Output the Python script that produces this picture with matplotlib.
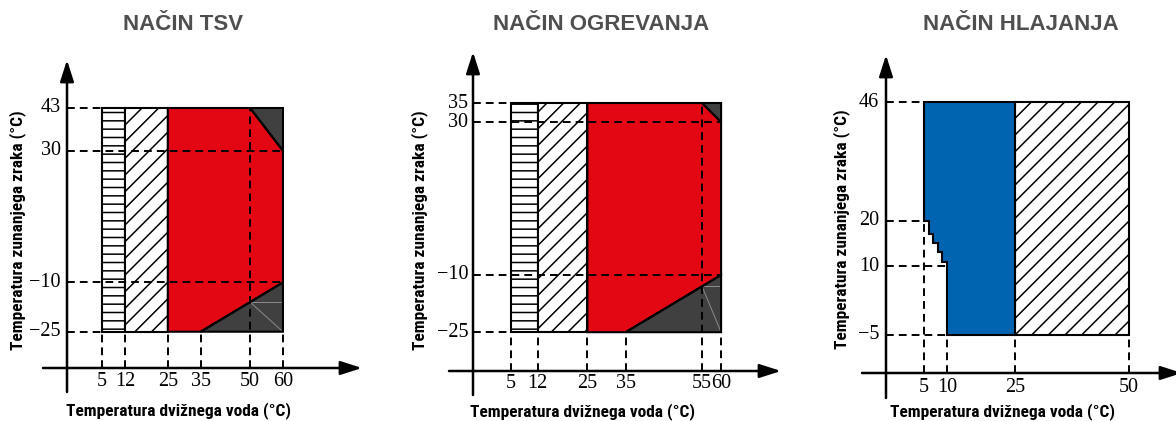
import matplotlib.pyplot as plt
from matplotlib.patches import Polygon
from matplotlib import font_manager
from matplotlib.font_manager import FontProperties

W, H = 1176, 421

RED = '#e30613'
BLUE = '#0064b0'
DARK = '#404040'
FAINT = '#8c8c8c'
TITLE_GREY = '#4f4f4f'

titles = ['NAČIN TSV', 'NAČIN OGREVANJA', 'NAČIN HLAJANJA']
xlabel = 'Temperatura dvižnega voda (°C)'
ylabel = 'Temperatura zunanjega zraka (°C)'

# --- NAČIN TSV ---
tsv_xticks = [5, 12, 25, 35, 50, 60]
tsv_yticks = [43, 30, -10, -25]
tsv_lined = [(5, -25), (12, -25), (12, 43), (5, 43)]
tsv_hatched = [(12, -25), (25, -25), (25, 43), (12, 43)]
tsv_red = [(25, -25), (25, 43), (50, 43), (60, 30), (60, -10), (35, -25)]
tsv_dark = [[(50, 43), (60, 43), (60, 30)],
            [(35, -25), (60, -25), (60, -10)]]
tsv_faint = [[(50, -16), (60, -16)], [(50, -16), (60, -25)]]
tsv_hdash = [(43, 5), (30, 60), (-10, 60), (-25, 5)]      # (y, x end)
tsv_vdash = [(5, -25), (12, -25), (25, -25), (35, -25), (50, 43), (60, -25)]  # (x, y end)

# --- NAČIN OGREVANJA ---
ogr_xticks = [5, 12, 25, 35, 55, 60]
ogr_yticks = [35, 30, -10, -25]
ogr_lined = [(5, -25), (12, -25), (12, 35), (5, 35)]
ogr_hatched = [(12, -25), (25, -25), (25, 35), (12, 35)]
ogr_red = [(25, -25), (25, 35), (55, 35), (60, 30), (60, -10), (35, -25)]
ogr_dark = [[(55, 35), (60, 35), (60, 30)],
            [(35, -25), (60, -25), (60, -10)]]
ogr_faint = [[(55, -13), (60, -13)], [(55, -13), (60, -25)]]
ogr_hdash = [(35, 5), (30, 60), (-10, 60), (-25, 5)]
ogr_vdash = [(5, -25), (12, -25), (25, -25), (35, -25), (55, 35), (60, -25)]

# --- NAČIN HLAJANJA ---
hla_xticks = [5, 10, 25, 50]
hla_yticks = [46, 20, 10, -5]
hla_blue = [(5, 46), (25, 46), (25, -5), (10, -5), (10, 11), (9, 11), (9, 13),
            (8, 13), (8, 15), (7, 15), (7, 17), (6, 17), (6, 20), (5, 20)]
hla_hatched = [(25, -5), (50, -5), (50, 46), (25, 46)]
hla_hdash = [(46, 5), (20, 5), (10, 10), (-5, 10)]
hla_vdash = [(5, 20), (10, 10), (25, -5), (50, -5)]

# layout in pixels: first tick positions, px per unit, axis lines, labels
panels = [
    dict(xticks=tsv_xticks, yticks=tsv_yticks, lined=tsv_lined, hatched=tsv_hatched,
         red=tsv_red, dark=tsv_dark, faint=tsv_faint, hdash=tsv_hdash, vdash=tsv_vdash,
         px0=102, py0=108, s=3.29, yax=67, yax_rng=(392, 60), xax=368, xax_rng=(43, 362),
         title_x=183, xlab=(179, 411), ylab=(18, 230), xtl=381, ytl=61),
    dict(xticks=ogr_xticks, yticks=ogr_yticks, lined=ogr_lined, hatched=ogr_hatched,
         red=ogr_red, dark=ogr_dark, faint=ogr_faint, hdash=ogr_hdash, vdash=ogr_vdash,
         px0=511, py0=103, s=3.82, yax=473, yax_rng=(395, 52), xax=371, xax_rng=(449, 781),
         title_x=601, xlab=(582, 412), ylab=(420, 230), xtl=384, ytl=468),
    dict(xticks=hla_xticks, yticks=hla_yticks, blue=hla_blue, hatched=hla_hatched,
         hdash=hla_hdash, vdash=hla_vdash,
         px0=924, py0=102, s=4.56, yax=886, yax_rng=(398, 55), xax=373, xax_rng=(862, 1182),
         title_x=1021, xlab=(1002, 412), ylab=(842, 229), xtl=387, ytl=879),
]


def pick(*names):
    for n in names:
        try:
            font_manager.findfont(FontProperties(family=n), fallback_to_default=False)
            return n
        except ValueError:
            pass
    return 'DejaVu Sans'


NARROW = pick('Liberation Sans Narrow', 'Roboto Condensed', 'Liberation Sans')
SERIF = pick('Liberation Serif', 'DejaVu Serif')
SANS = pick('Liberation Sans', 'DejaVu Sans')

plt.rcParams['hatch.linewidth'] = 1.1
plt.rcParams['hatch.color'] = 'k'

fig = plt.figure(figsize=(W / 100, H / 100), dpi=100)

for i, p in enumerate(panels):
    ax = fig.add_axes([0, 0, 1, 1])
    s = p['s']
    x0, px0 = p['xticks'][0], p['px0']
    y0, py0 = p['yticks'][0], p['py0']
    ax.set_xlim(x0 - px0 / s, x0 + (W - px0) / s)
    ax.set_ylim(y0 - (H - py0) / s, y0 + py0 / s)
    ax.axis('off')
    ax.patch.set_alpha(0)

    fx = lambda px: x0 + (px - px0) / s
    fy = lambda py: y0 - (py - py0) / s

    # regions
    if 'lined' in p:
        ax.add_patch(Polygon(p['lined'], closed=True, facecolor='white', edgecolor='k',
                             hatch='--', lw=1.5, zorder=1))
    ax.add_patch(Polygon(p['hatched'], closed=True, facecolor='white', edgecolor='k',
                         hatch='//', lw=1.5, zorder=1))
    if 'red' in p:
        ax.add_patch(Polygon(p['red'], closed=True, facecolor=RED, edgecolor='none', zorder=1))
        for tri in p['dark']:
            ax.add_patch(Polygon(tri, closed=True, facecolor=DARK, edgecolor='none', zorder=1))
        for seg in p['faint']:
            ax.plot(*zip(*seg), color=FAINT, lw=0.7, zorder=1.5)
    if 'blue' in p:
        ax.add_patch(Polygon(p['blue'], closed=True, facecolor=BLUE, edgecolor='none', zorder=1))

    # dashed guide lines
    for y, xe in p['hdash']:
        ax.plot([fx(p['yax']), xe], [y, y], color='k', lw=1.4, dashes=(4, 2.6), zorder=2)
    for x, ye in p['vdash']:
        ax.plot([x, x], [fy(p['xax']), ye], color='k', lw=1.4, dashes=(4, 2.6), zorder=2)

    # solid region borders
    if 'red' in p:
        ax.add_patch(Polygon(p['red'], closed=True, fill=False, edgecolor='k', lw=1.5, zorder=3))
        for tri in p['dark']:
            ax.add_patch(Polygon(tri, closed=True, fill=False, edgecolor='k', lw=1.5, zorder=3))
    if 'blue' in p:
        ax.add_patch(Polygon(p['blue'], closed=True, fill=False, edgecolor='k', lw=1.5, zorder=3))

    # axes with arrows
    arrow = dict(arrowstyle='-|>,head_length=1.0,head_width=0.32', color='k', lw=1.8,
                 mutation_scale=13, shrinkA=0, shrinkB=0)
    ax.annotate('', xy=(fx(p['yax']), fy(p['yax_rng'][1])),
                xytext=(fx(p['yax']), fy(p['yax_rng'][0])), arrowprops=arrow,
                annotation_clip=False)
    ax.annotate('', xy=(fx(p['xax_rng'][1]), fy(p['xax'])),
                xytext=(fx(p['xax_rng'][0]), fy(p['xax'])), arrowprops=arrow,
                annotation_clip=False)

    # tick labels
    for x in p['xticks']:
        ax.text(x, fy(p['xtl']), str(x), ha='center', va='center',
                fontsize=14.5, family=SERIF)
    for y in p['yticks']:
        ax.text(fx(p['ytl']), y, str(y).replace('-', '\u2212'), ha='right', va='center',
                fontsize=14.5, family=SERIF)

    # titles and axis labels
    fig.text(p['title_x'] / W, 1 - 24 / H, titles[i], ha='center', va='center',
             fontsize=16, fontweight='bold', color=TITLE_GREY, family=SANS)
    fig.text(p['xlab'][0] / W, 1 - p['xlab'][1] / H, xlabel, ha='center', va='center',
             fontsize=12.5, fontweight='bold', family=NARROW)
    fig.text(p['ylab'][0] / W, 1 - p['ylab'][1] / H, ylabel, ha='center', va='center',
             rotation=90, fontsize=12.5, fontweight='bold', family=NARROW)

fig.savefig('out.png', dpi=100)
